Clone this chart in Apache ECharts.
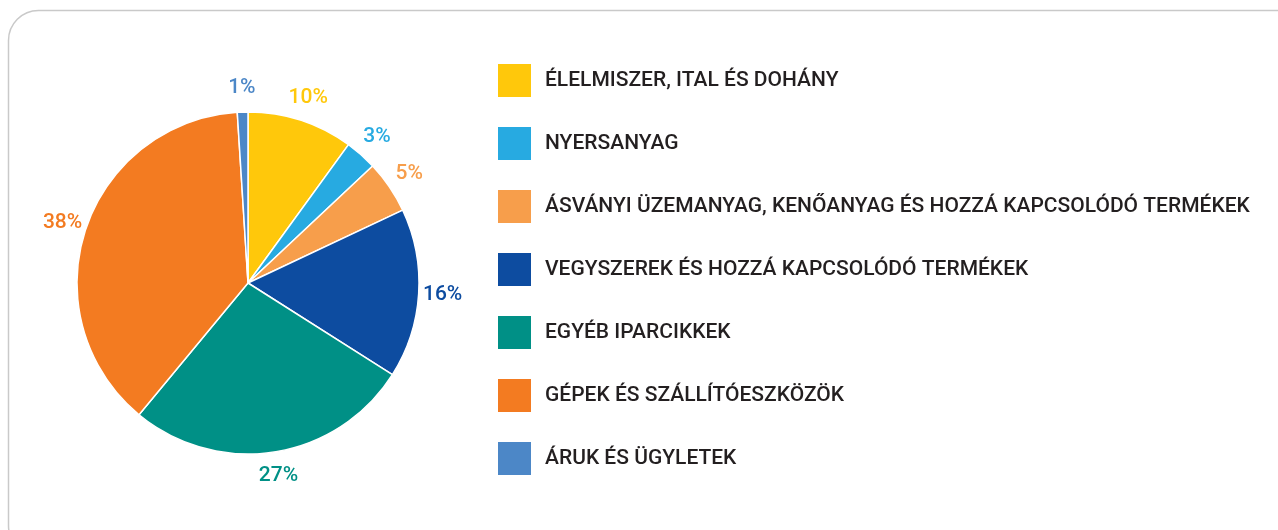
<!DOCTYPE html>
<html>
<head>
<meta charset="utf-8">
<script src="https://cdn.jsdelivr.net/npm/echarts@6/dist/echarts.min.js"></script>
<style>
  html, body { margin: 0; padding: 0; background: #fff; }
  #chart { width: 1278px; height: 530px; }
</style>
</head>
<body>
<div id="chart"></div>
<script>
var categories = [
    'ÉLELMISZER, ITAL ÉS DOHÁNY',
    'NYERSANYAG',
    'ÁSVÁNYI ÜZEMANYAG, KENŐANYAG ÉS HOZZÁ KAPCSOLÓDÓ TERMÉKEK',
    'VEGYSZEREK ÉS HOZZÁ KAPCSOLÓDÓ TERMÉKEK',
    'EGYÉB IPARCIKKEK',
    'GÉPEK ÉS SZÁLLÍTÓESZKÖZÖK',
    'ÁRUK ÉS ÜGYLETEK'
];
var shares = [10, 3, 5, 16, 27, 38, 1];
var colors = ['#FFC80B', '#27AAE1', '#F79E4B', '#0D4CA0', '#009086', '#F37B21', '#4C87C7'];

var pieData = categories.map(function(name, i) {
    return { name: name, value: shares[i] };
});
// same data again, only for the percent labels around the pie
var labelData = categories.map(function(name, i) {
    return { name: name, value: shares[i], label: { color: colors[i] } };
});

var mChart = echarts.init(document.getElementById('chart'));
mChart.setOption({
    animation: false,
    color: colors,
    graphic: [{
        type: 'rect',
        shape: { x: 8.5, y: 10.5, width: 1300, height: 545, r: 30 },
        style: { fill: 'none', stroke: '#c9c9c9', lineWidth: 1.5 },
        silent: true
    }],
    legend: {
        orient: 'vertical',
        left: 496,
        top: 62,
        padding: 0,
        icon: 'rect',
        itemWidth: 35,
        itemHeight: 35,
        itemGap: 26,
        selectedMode: false,
        data: categories,
        textStyle: {
            fontFamily: 'Roboto',
            fontWeight: 500,
            fontSize: 21,
            color: '#231F20',
            padding: [0, 0, 0, 8]
        }
    },
    series: [{
        type: 'pie',
        center: [248, 283],
        radius: 171,
        startAngle: 90,
        clockwise: true,
        silent: true,
        label: { show: false },
        labelLine: { show: false },
        itemStyle: { borderColor: '#fff', borderWidth: 1.5 },
        data: pieData
    }, {
        type: 'pie',
        center: [248, 283],
        radius: [182, 202],
        startAngle: 90,
        clockwise: true,
        silent: true,
        legendHoverLink: false,
        itemStyle: { color: 'rgba(0,0,0,0)' },
        label: {
            show: true,
            position: 'inside',
            formatter: '{c}%',
            fontFamily: 'Roboto',
            fontWeight: 500,
            fontSize: 21
        },
        labelLine: { show: false },
        data: labelData
    }]
});
</script>
</body>
</html>
